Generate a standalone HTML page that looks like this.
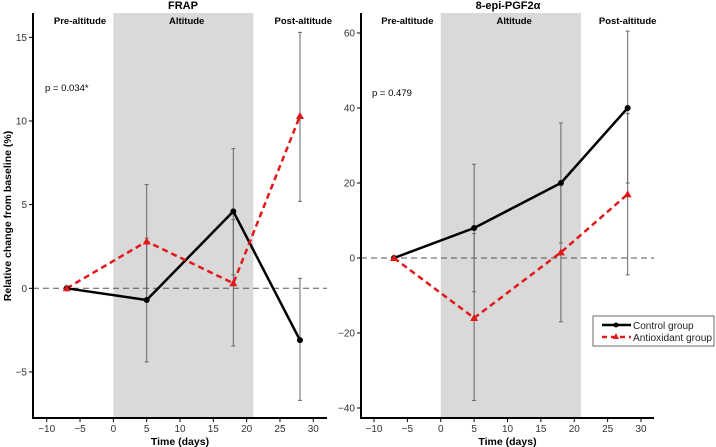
<!DOCTYPE html>
<html><head><meta charset="utf-8"><style>
body{margin:0;background:#fff}
svg{display:block;font-family:"Liberation Sans",Arial,sans-serif}
</style></head><body>
<svg id="c" width="716" height="447" viewBox="0 0 716 447"></svg>
<script>
const days=[-7,5,18,28];
const frapCtrl=[0,-0.7,4.6,-3.1];
const frapCtrlLo=[0,-4.4,0.8,-6.7];
const frapCtrlHi=[0,3.0,8.35,0.6];
const frapAnti=[0,2.8,0.3,10.3];
const frapAntiLo=[0,-0.6,-3.45,5.2];
const frapAntiHi=[0,6.2,4.1,15.3];
const frapTicks=[-5,0,5,10,15];
const pgCtrl=[0,8,20,40];
const pgCtrlLo=[0,-9,4,20];
const pgCtrlHi=[0,25,36,60.5];
const pgAnti=[0,-16,1.5,17];
const pgAntiLo=[0,-38,-17,-4.5];
const pgAntiHi=[0,6.5,20,38.5];
const pgTicks=[-40,-20,0,20,40,60];
const xTicks=[-10,-5,0,5,10,15,20,25,30];
const NS="http://www.w3.org/2000/svg";
const svg=document.getElementById('c');
function el(t,a,p){const e=document.createElementNS(NS,t);for(const k in a)e.setAttribute(k,a[k]);(p||svg).appendChild(e);return e;}
function txt(s,a,p){const e=el('text',a,p);e.textContent=s;return e;}
const fmt=t=>String(t).replace('-','\u2212');
function panel(o){
  const g=el('g',{});
  
  
  const X=d=>o.x0+(d+10)*(o.x30-o.x0)/40;
  const Y=v=>o.y0-(v*o.py);
  const shade=el('rect',{x:X(0),y:13,width:X(21)-X(0),height:418-13,fill:'#d9d9d9'},g);
  
  
  el('line',{x1:o.ax,x2:o.axEnd,y1:Y(0),y2:Y(0),stroke:'#555','stroke-dasharray':'6,4','stroke-width':1},g);
  el('line',{x1:o.ax,x2:o.ax,y1:13,y2:419,stroke:'#000','stroke-width':2},g);
  el('line',{x1:o.ax-1,x2:o.axEnd,y1:418,y2:418,stroke:'#000','stroke-width':2},g);
  xTicks.forEach(t=>{el('line',{x1:X(t),x2:X(t),y1:418,y2:422,stroke:'#000'},g);
    const l=txt(fmt(t),{x:X(t),y:432,'text-anchor':'middle','font-size':10,fill:'#333'},g);
    });
  o.ticks.forEach(t=>{el('line',{x1:o.ax-4,x2:o.ax,y1:Y(t),y2:Y(t),stroke:'#000'},g);
    const l=txt(fmt(t),{x:o.ax-6,y:Y(t)+3.5,'text-anchor':'end','font-size':10,fill:'#333'},g);
    });
  const xt=txt('Time (days)',{x:(X(-10)+X(30))/2,y:445,'text-anchor':'middle','font-size':10.5,'font-weight':'bold'},g);
  
  const tt=txt(o.title,{x:o.tx,y:9,'text-anchor':'middle','font-size':11,'font-weight':'bold'},g);
  
  [['Pre-altitude',-5],['Altitude',11],['Post-altitude',o.postX]].forEach(([s,d])=>{
    const l=txt(s,{x:X(d),y:24,'text-anchor':'middle','font-size':9.5,'font-weight':'bold'},g);
    });
  const p=txt(o.p,{x:o.px,y:o.py2,'font-size':9.5},g);
  
  function eb(lo,hi){days.forEach((d,i)=>{if(lo[i]===hi[i])return;
    el('line',{x1:X(d),x2:X(d),y1:Y(lo[i]),y2:Y(hi[i]),stroke:'#666','stroke-width':1},g);
    el('line',{x1:X(d)-2,x2:X(d)+2,y1:Y(lo[i]),y2:Y(lo[i]),stroke:'#666'},g);
    el('line',{x1:X(d)-2,x2:X(d)+2,y1:Y(hi[i]),y2:Y(hi[i]),stroke:'#666'},g);});}
  eb(o.cLo,o.cHi);eb(o.aLo,o.aHi);
  const ca=el('polyline',{points:days.map((d,i)=>X(d)+','+Y(o.c[i])).join(' '),fill:'none',stroke:'#000','stroke-width':2.5},g);
  
  const aa=el('polyline',{points:days.map((d,i)=>X(d)+','+Y(o.a[i])).join(' '),fill:'none',stroke:'#e0191b','stroke-width':2.5,'stroke-dasharray':'6,4'},g);
  
  days.forEach((d,i)=>{const c=el('circle',{cx:X(d),cy:Y(o.c[i]),r:3,fill:'#000'},g);
    
    const x=X(d),y=Y(o.a[i]);
    const t=el('polygon',{points:`${x},${y-4} ${x-4},${y+3} ${x+4},${y+3}`,fill:'#e0191b'},g);
    });
}
panel({name:'frap-panel',x0:46.7,x30:313.3,ax:33,axEnd:327,y0:288.3,py:16.73,ticks:frapTicks,
  title:'FRAP',tx:183,postX:28.5,p:'p  =  0.034*',px:45,py2:91,c:frapCtrl,cLo:frapCtrlLo,cHi:frapCtrlHi,a:frapAnti,aLo:frapAntiLo,aHi:frapAntiHi});
panel({name:'pgf-panel',x0:374,x30:641,ax:361,axEnd:654,y0:258,py:3.75,ticks:pgTicks,
  title:'8-epi-PGF2α',tx:508,postX:28,p:'p  =  0.479',px:372,py2:96,c:pgCtrl,cLo:pgCtrlLo,cHi:pgCtrlHi,a:pgAnti,aLo:pgAntiLo,aHi:pgAntiHi});
const yt=txt('Relative change from baseline (%)',{x:0,y:0,transform:'translate(11,216) rotate(-90)','text-anchor':'middle','font-size':10.5,'font-weight':'bold'});

const lg=el('g',{});

el('rect',{x:593,y:316,width:121,height:30,fill:'#fff',stroke:'#444','stroke-width':0.8},lg);
el('line',{x1:602,x2:631,y1:325,y2:325,stroke:'#000','stroke-width':2.5},lg);
el('circle',{cx:616,cy:325,r:2.5,fill:'#000'},lg);
el('line',{x1:602,x2:631,y1:337,y2:337,stroke:'#e0191b','stroke-width':2.5,'stroke-dasharray':'5,4'},lg);
el('polygon',{points:'616,333 613,339 619,339',fill:'#e0191b'},lg);
const l1=txt('Control group',{x:633,y:329,'font-size':10,fill:'#222'},lg);

const l2=txt('Antioxidant group',{x:633,y:341,'font-size':10,fill:'#222','textLength':79,'lengthAdjust':'spacingAndGlyphs'},lg);

</script>
</body></html>
